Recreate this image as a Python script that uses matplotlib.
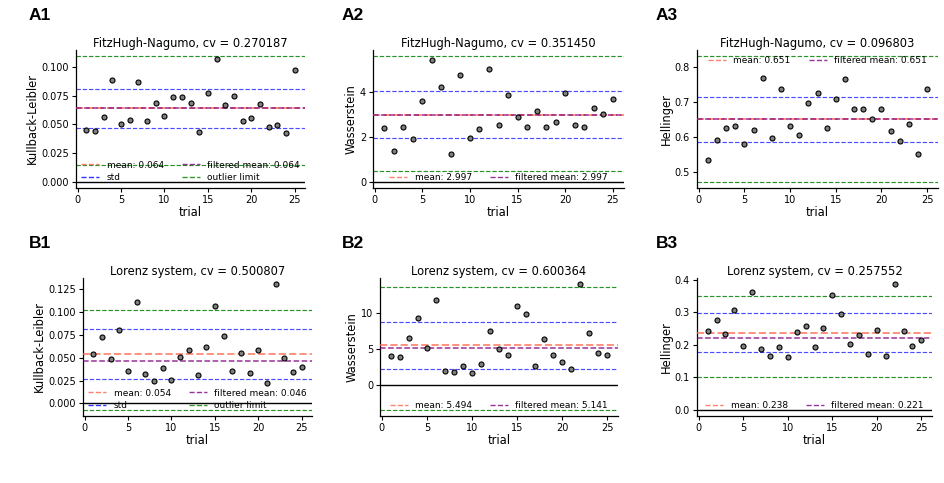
import matplotlib
matplotlib.use("Agg")
import matplotlib.pyplot as plt
from matplotlib.lines import Line2D

trials = list(range(1, 26))

# ---------------- data ----------------
a1_vals = [0.0451, 0.0445, 0.0564, 0.0884, 0.0503, 0.0540, 0.0873, 0.0526, 0.0691, 0.0575,
           0.0740, 0.0740, 0.0685, 0.0436, 0.0772, 0.1069, 0.0671, 0.0746, 0.0532, 0.0558,
           0.0676, 0.0474, 0.0497, 0.0425, 0.0971]
a2_vals = [2.376, 1.358, 2.450, 1.889, 3.601, 5.432, 4.236, 1.225, 4.738, 1.963,
           2.347, 5.018, 2.524, 3.852, 2.908, 2.421, 3.159, 2.450, 2.642, 3.956,
           2.539, 2.450, 3.277, 3.026, 3.690]
a3_vals = [0.534, 0.591, 0.627, 0.633, 0.582, 0.622, 0.768, 0.599, 0.737, 0.632,
           0.608, 0.698, 0.725, 0.626, 0.709, 0.765, 0.681, 0.681, 0.653, 0.680,
           0.619, 0.589, 0.639, 0.553, 0.737]
b1_vals = [0.0538, 0.0723, 0.0488, 0.0798, 0.0354, 0.1105, 0.0322, 0.0249, 0.0383, 0.0256,
           0.0506, 0.0578, 0.0311, 0.0611, 0.1069, 0.0737, 0.0358, 0.0553, 0.0336, 0.0585,
           0.0228, 0.1301, 0.0499, 0.0340, 0.0394]
b2_vals = [3.98, 3.89, 6.48, 9.26, 5.14, 11.81, 1.99, 1.81, 2.69, 1.67,
           2.96, 7.55, 4.95, 4.12, 11.02, 9.86, 2.59, 6.39, 4.17, 3.15,
           2.18, 14.03, 7.27, 4.49, 4.17]
b3_vals = [0.244, 0.2765, 0.234, 0.309, 0.197, 0.364, 0.188, 0.167, 0.194, 0.163,
           0.239, 0.257, 0.194, 0.253, 0.355, 0.295, 0.204, 0.230, 0.173, 0.247,
           0.165, 0.387, 0.244, 0.197, 0.214]

labels = ["A1", "A2", "A3", "B1", "B2", "B3"]
systems = ["FitzHugh-Nagumo"] * 3 + ["Lorenz system"] * 3
metrics = ["Kullback-Leibler", "Wasserstein", "Hellinger"] * 2
cvs = [0.270187, 0.351450, 0.096803, 0.500807, 0.600364, 0.257552]
means = [0.064, 2.997, 0.651, 0.054, 5.494, 0.238]
filtered_means = [0.064, 2.997, 0.651, 0.046, 5.141, 0.221]
outlier_lo = [0.0150, 0.487, 0.4735, -0.0069, -3.47, 0.101]
outlier_hi = [0.1095, 5.594, 0.831, 0.1019, 13.70, 0.350]
zero_line = [True, True, False, True, True, True]
full_legend = [True, False, False, True, False, False]
legend_locs = ["lower center", "lower center", "upper center",
               "lower center", "lower center", "lower center"]
yticks = [[0.0, 0.025, 0.05, 0.075, 0.1],
          [0, 2, 4],
          [0.5, 0.6, 0.7, 0.8],
          [0.0, 0.025, 0.05, 0.075, 0.1, 0.125],
          [0, 5, 10],
          [0.0, 0.1, 0.2, 0.3, 0.4]]
xticks = [0, 5, 10, 15, 20, 25]
values = [a1_vals, a2_vals, a3_vals, b1_vals, b2_vals, b3_vals]

# ---------------- layout (pixels) ----------------
W, H = 944, 483
boxes = [(76, 50, 305, 188), (373, 50, 624, 188), (697, 50, 938, 188),
         (83, 278, 312, 416), (380, 278, 618, 416), (697, 278, 932, 416)]
label_pos = [(29, 8), (342, 8), (656, 8), (29, 236), (342, 236), (656, 236)]

fig = plt.figure(figsize=(W / 100, H / 100), dpi=100)

C_MEAN = "tomato"
C_FILT = "purple"
C_STD = "blue"
C_OUT = "green"

for i in range(6):
    x0, y0, x1, y1 = boxes[i]
    ax = fig.add_axes([x0 / W, 1 - y1 / H, (x1 - x0) / W, (y1 - y0) / H])
    vals = values[i]
    m = means[i]
    fm = filtered_means[i]
    sd = cvs[i] * m

    if zero_line[i]:
        ax.axhline(0, color="black", lw=1.0, zorder=1)
    ax.axhline(outlier_hi[i], color=C_OUT, lw=0.85, ls="--", alpha=0.85, zorder=2)
    ax.axhline(outlier_lo[i], color=C_OUT, lw=0.85, ls="--", alpha=0.85, zorder=2)
    ax.axhline(m + sd, color=C_STD, lw=0.85, ls="--", alpha=0.7, zorder=2)
    ax.axhline(m - sd, color=C_STD, lw=0.85, ls="--", alpha=0.7, zorder=2)
    ax.axhline(m, color=C_MEAN, lw=1.4, ls="--", alpha=0.7, zorder=3)
    ax.axhline(fm, color=C_FILT, lw=1.1, ls="--", alpha=0.8, zorder=3)
    ax.scatter(trials, vals, s=13, facecolor="#7f7f7f", edgecolor="black",
               linewidths=0.8, zorder=4)

    ax.set_xticks(xticks)
    ax.set_yticks(yticks[i])
    ax.tick_params(labelsize=7.0, length=3, width=0.8, pad=2)
    ax.set_xlabel("trial", fontsize=8.3, labelpad=1)
    ax.set_ylabel(metrics[i], fontsize=8.3, labelpad=1.5)
    ax.set_title(f"{systems[i]}, cv = {cvs[i]:.6f}", fontsize=8.3, pad=2.5)
    for s in ["top", "right"]:
        ax.spines[s].set_visible(False)
    for s in ["left", "bottom"]:
        ax.spines[s].set_linewidth(0.9)

    h_mean = Line2D([], [], color=C_MEAN, ls="--", lw=1.0, alpha=0.8)
    h_filt = Line2D([], [], color=C_FILT, ls="--", lw=1.0, alpha=0.8)
    h_std = Line2D([], [], color=C_STD, ls="--", lw=1.0, alpha=0.8)
    h_out = Line2D([], [], color=C_OUT, ls="--", lw=1.0, alpha=0.8)
    if full_legend[i]:
        handles = [h_mean, h_std, h_filt, h_out]
        labs = [f"mean: {m:.3f}", "std", f"filtered mean: {fm:.3f}", "outlier limit"]
    else:
        handles = [h_mean, h_filt]
        labs = [f"mean: {m:.3f}", f"filtered mean: {fm:.3f}"]
    ax.legend(handles, labs, ncol=2, loc=legend_locs[i], frameon=False,
              fontsize=6.5, handlelength=2.0, labelspacing=0.35, borderaxespad=0.3)

    lx, ly = label_pos[i]
    fig.text(lx / W, 1 - ly / H, labels[i], fontsize=12.5, fontweight="bold",
             family="Liberation Sans", va="top", ha="left")

fig.savefig("out.png", dpi=100)
